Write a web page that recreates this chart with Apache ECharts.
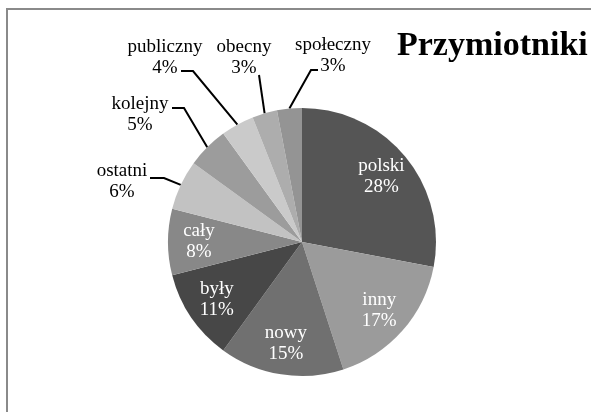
<!DOCTYPE html>
<html>
<head>
<meta charset="utf-8">
<script src="https://cdn.jsdelivr.net/npm/echarts@6/dist/echarts.min.js"></script>
<style>
  html, body { margin: 0; padding: 0; background: #fff; }
  #chart { width: 591px; height: 412px; }
</style>
</head>
<body>
<div id="chart"></div>
<script>
// Share of the most frequent adjectives (percent)
const categories = ['polski', 'inny', 'nowy', 'były', 'cały', 'ostatni', 'kolejny', 'publiczny', 'obecny', 'społeczny'];
const shares = [28, 17, 15, 11, 8, 6, 5, 4, 3, 3];
const sliceColors = ['#555555', '#9b9b9b', '#707070', '#474747', '#888888', '#c2c2c2', '#9c9c9c', '#cacaca', '#adadad', '#949494'];
const chartTitle = 'Przymiotniki';

// Slices big enough to carry their label inside
const insideCount = 5;

// Outside labels: label centre, leader elbow and leader end, by slice index
const outsideLabels = {
  5: { pos: [122, 182], elbow: [164, 178], end: [150, 178] },
  6: { pos: [140, 115], elbow: [184, 108], end: [172, 108] },
  7: { pos: [165, 58],  elbow: [193, 71],  end: [181, 71] },
  8: { pos: [244, 58],  elbow: [259, 75],  end: [259, 75] },
  9: { pos: [333, 56],  elbow: [311, 70],  end: [318, 70] }
};

const serif = '"Liberation Serif", "Times New Roman", serif';
const center = [302, 242];
const radius = 134;

const pieData = categories.map((name, i) => ({
  name,
  value: shares[i],
  itemStyle: { color: sliceColors[i] },
  label: { show: i >= insideCount },
  labelLine: { show: i >= insideCount }
}));

const overlayData = categories.map((name, i) => ({
  name,
  value: shares[i],
  label: { show: i < insideCount }
}));

const chart = echarts.init(document.getElementById('chart'), null, { renderer: 'canvas' });

chart.setOption({
  animation: false,
  backgroundColor: '#ffffff',
  title: {
    text: chartTitle,
    left: 397,
    top: 29,
    padding: 0,
    textStyle: { fontFamily: serif, fontSize: 34, fontWeight: 'bold', color: '#000' }
  },
  graphic: [{
    type: 'rect',
    silent: true,
    shape: { x: 7, y: 9, width: 640, height: 500 },
    style: { fill: 'none', stroke: '#8a8a8a', lineWidth: 2 }
  }],
  series: [
    {
      type: 'pie',
      center: center,
      radius: radius,
      startAngle: 90,
      clockwise: true,
      avoidLabelOverlap: false,
      itemStyle: { borderWidth: 0 },
      label: {
        position: 'outside',
        formatter: p => p.name + '\n' + p.percent.toFixed(0) + '%',
        fontFamily: serif,
        fontSize: 19,
        lineHeight: 21,
        color: '#000',
        align: 'center'
      },
      labelLine: {
        length: 12,
        length2: 10,
        lineStyle: { color: '#000', width: 2 }
      },
      labelLayout: params => {
        const cfg = outsideLabels[params.dataIndex];
        if (!cfg) return {};
        const out = { x: cfg.pos[0], y: cfg.pos[1], align: 'center', verticalAlign: 'middle' };
        // keep the pie's own anchor on the arc, bend the leader towards the label
        if (params.labelLinePoints && params.labelLinePoints.length) {
          out.labelLinePoints = [params.labelLinePoints[0], cfg.elbow, cfg.end];
        }
        return out;
      },
      data: pieData
    },
    {
      // transparent ring that carries the inside labels further out than mid-radius
      type: 'pie',
      center: center,
      radius: [66, radius],
      startAngle: 90,
      clockwise: true,
      silent: true,
      itemStyle: { color: 'rgba(0,0,0,0)', borderWidth: 0 },
      label: {
        position: 'inside',
        formatter: p => p.name + '\n' + p.percent.toFixed(0) + '%',
        fontFamily: serif,
        fontSize: 19,
        lineHeight: 21,
        color: '#fff',
        align: 'center'
      },
      labelLine: { show: false },
      data: overlayData
    }
  ]
});
</script>
</body>
</html>
